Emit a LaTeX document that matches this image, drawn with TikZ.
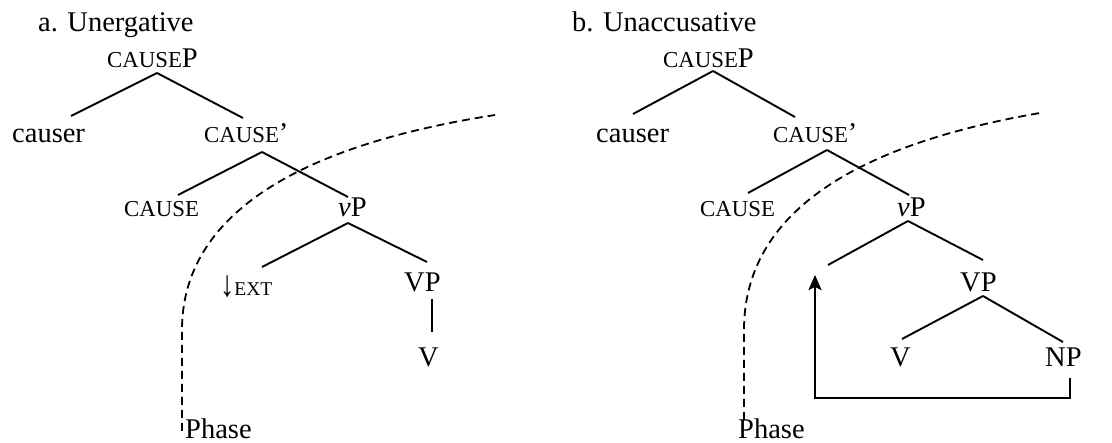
\documentclass[tikz,border=0pt]{standalone}
\usepackage{fontspec}
\usepackage{graphicx}
\setmainfont{Liberation Serif}
\usetikzlibrary{arrows.meta,calc}
\newcommand\mysc[1]{{\fontsize{22.8}{24}\selectfont #1}}
\newcommand\mysmall[1]{{\fontsize{19.5}{21}\selectfont #1}}
\begin{document}
\begin{tikzpicture}[x=1pt,y=-1pt,
  lbl/.style={anchor=base west,inner sep=0pt,font=\fontsize{28.5}{32}\selectfont},
  branch/.style={line width=1.9pt},
  phaseline/.style={line width=1.8pt,dash pattern=on 8pt off 5pt},
  move/.style={line width=2.4pt,-{Stealth[length=15pt,width=13pt,inset=3pt]}}]
\useasboundingbox (0,0) rectangle (1112,443);
% ---------- a. Unergative ----------
\node[lbl] (titleA) at (38,32) {a. Unergative};
\node[lbl] (cpA) at (107,68) {\mysc{CAUSE}P};
\node[lbl] (causerA) at (12,143) {causer};
\node[lbl] (cbarA) at (204,143) {\mysc{CAUSE}’};
\node[lbl] (causeA) at (124,217) {\mysc{CAUSE}};
\node[lbl] (vpA) at (338,217) {\textit{v}P};
\node[lbl] (extA) at (220,296) {\raisebox{-1pt}{\scalebox{1}[1.3]{↓}}\mysmall{EXT}};
\node[lbl] (VPA) at (404,292) {VP};
\node[lbl] (VA) at (418,367) {V};
\node[lbl] (phaseA) at (185,439) {Phase};
\coordinate (cpAb) at ($(cpA.base west)+(50,5)$);
\coordinate (causerAt) at ($(causerA.base west)+(59,-27)$);
\coordinate (cbarAt) at ($(cbarA.base west)+(39,-25)$);
\coordinate (cbarAb) at ($(cbarA.base west)+(58,9)$);
\coordinate (causeAt) at ($(causeA.base west)+(54,-22)$);
\coordinate (vpAt) at ($(vpA.base west)+(10,-20)$);
\coordinate (vpAb) at ($(vpA.base west)+(10,6)$);
\coordinate (extAt) at ($(extA.base west)+(42,-29)$);
\coordinate (VPAt) at ($(VPA.base west)+(23,-30)$);
\coordinate (VPAb) at ($(VPA.base west)+(28,7)$);
\coordinate (VAt) at ($(VA.base west)+(14,-35)$);
\draw[branch] (cpAb) -- (causerAt);
\draw[branch] (cpAb) -- (cbarAt);
\draw[branch] (cbarAb) -- (causeAt);
\draw[branch] (cbarAb) -- (vpAt);
\draw[branch] (vpAb) -- (extAt);
\draw[branch] (vpAb) -- (VPAt);
\draw[branch] (VPAb) -- (VAt);
\coordinate (phAs) at ($(phaseA.base west)+(-3,-8)$);
\coordinate (phAe) at (495,115);
\draw[phaseline] (phAs) -- ++(0,-101) .. controls ++(0,-100) and (270,150) .. (phAe);
% ---------- b. Unaccusative ----------
\node[lbl] (titleB) at (572,32) {b. Unaccusative};
\node[lbl] (cpB) at (663,68) {\mysc{CAUSE}P};
\node[lbl] (causerB) at (596,143) {causer};
\node[lbl] (cbarB) at (773,143) {\mysc{CAUSE}’};
\node[lbl] (causeB) at (700,217) {\mysc{CAUSE}};
\node[lbl] (vpB) at (897,217) {\textit{v}P};
\node[lbl] (VPB) at (960,292) {VP};
\node[lbl] (VB) at (890,367) {V};
\node[lbl] (NPB) at (1045,367) {NP};
\node[lbl] (phaseB) at (738,439) {Phase};
\coordinate (cpBb) at ($(cpB.base west)+(50,3)$);
\coordinate (causerBt) at ($(causerB.base west)+(37,-29)$);
\coordinate (cbarBt) at ($(cbarB.base west)+(22,-26)$);
\coordinate (cbarBb) at ($(cbarB.base west)+(54,7)$);
\coordinate (causeBt) at ($(causeB.base west)+(48,-24)$);
\coordinate (vpBt) at ($(vpB.base west)+(12,-22)$);
\coordinate (vpBb) at ($(vpB.base west)+(11,4)$);
\coordinate (gapB) at (828,265);
\coordinate (VPBt) at ($(VPB.base west)+(23,-32)$);
\coordinate (VPBb) at ($(VPB.base west)+(23,4)$);
\coordinate (VBt) at ($(VB.base west)+(12,-28)$);
\coordinate (NPBt) at ($(NPB.base west)+(18,-25)$);
\coordinate (NPBb) at ($(NPB.base west)+(25,11)$);
\coordinate (tipB) at (815,275);
\draw[branch] (cpBb) -- (causerBt);
\draw[branch] (cpBb) -- (cbarBt);
\draw[branch] (cbarBb) -- (causeBt);
\draw[branch] (cbarBb) -- (vpBt);
\draw[branch] (vpBb) -- (gapB);
\draw[branch] (vpBb) -- (VPBt);
\draw[branch] (VPBb) -- (VBt);
\draw[branch] (VPBb) -- (NPBt);
\draw[move] (NPBb) |- ($(tipB)+(0,123)$) -- (tipB);
\coordinate (phBs) at ($(phaseB.base west)+(6,-19)$);
\coordinate (phBe) at (1040,113);
\draw[phaseline] (phBs) -- ++(0,-90) .. controls ++(0,-100) and (825,150) .. (phBe);
\end{tikzpicture}
\end{document}
